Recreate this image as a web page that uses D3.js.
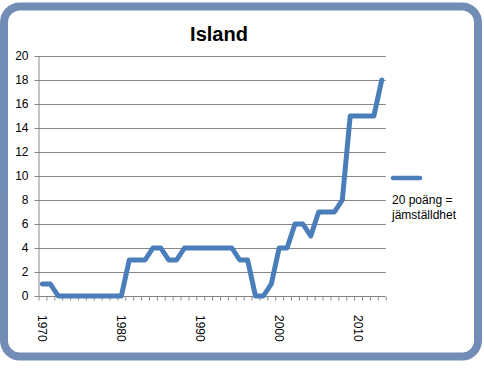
<!DOCTYPE html>
<html><head><meta charset="utf-8">
<script src="https://cdn.jsdelivr.net/npm/d3@7"></script>
<style>html,body{margin:0;padding:0;background:#fff;}svg{display:block;}</style>
</head><body>
<script>
const years = d3.range(1970, 2014);
const values = [1,1,0,0,0,0,0,0,0,0,0,3,3,3,4,4,3,3,4,4,4,4,4,4,4,3,3,0,0,1,4,4,6,6,5,7,7,7,8,15,15,15,15,18];
const yTicks = [0,2,4,6,8,10,12,14,16,18,20];
const xLabels = [1970,1980,1990,2000,2010];
const title = "Island";
const legendLines = ["20 poäng =", "jämställdhet"];

const W = 484, H = 368;
const svg = d3.select("body").append("svg").attr("width", W).attr("height", H);

// border
svg.append("rect").attr("x", 4).attr("y", 6.5).attr("width", 474).attr("height", 350)
  .attr("rx", 16).attr("ry", 16).attr("fill", "#fff")
  .attr("stroke", "#728db5").attr("stroke-width", 8);

const x0 = 38.5, x1 = 385.7, yBot = 296, yTop = 56;
const xb = d3.scaleBand().domain(years).range([x0, x1]).padding(0);
const xi = d3.scaleLinear().domain([0, years.length]).range([x0, x1]);
const y = d3.scaleLinear().domain([0, 20]).range([yBot, yTop]);

// gridlines
svg.append("g").selectAll("line").data(yTicks.filter(d => d > 0)).join("line")
  .attr("x1", x0).attr("x2", x1).attr("y1", d => Math.round(y(d)) + 0.5).attr("y2", d => Math.round(y(d)) + 0.5)
  .attr("stroke", "#868686").attr("stroke-width", 1);

// y axis
const yAxis = svg.append("g").attr("transform", `translate(${x0},0)`)
  .call(d3.axisLeft(y).tickValues(yTicks).tickSize(4).tickPadding(6));
yAxis.selectAll("path,line").attr("stroke", "#868686");
yAxis.selectAll("text").attr("font-family", "Liberation Sans, Arial, sans-serif").attr("font-size", 12).attr("fill", "#000");
yAxis.select(".domain").attr("d", `M0.5,${yBot}V${yTop}`);

// x axis ticks
const xAxis = svg.append("g").attr("transform", `translate(0,${yBot + 0.5})`)
  .call(d3.axisBottom(xi).tickValues(d3.range(0, years.length + 1)).tickSize(4).tickFormat(""));
xAxis.selectAll("path,line").attr("stroke", "#868686");
xAxis.select(".domain").attr("d", `M${x0},0H${x1}`);

// x labels
svg.append("g").selectAll("text").data(xLabels).join("text")
  .attr("transform", d => `translate(${xb(d) + xb.bandwidth() / 2},315) rotate(90)`)
  .attr("dy", "0.35em").attr("text-anchor", "start")
  .attr("font-family", "Liberation Sans, Arial, sans-serif").attr("font-size", 12).attr("fill", "#000")
  .text(d => d);

// line
const line = d3.line().x((d, i) => xb(years[i]) + xb.bandwidth() / 2).y(d => y(d));
svg.append("path").datum(values).attr("d", line)
  .attr("fill", "none").attr("stroke", "#4a7ebb").attr("stroke-width", 5)
  .attr("stroke-linejoin", "round").attr("stroke-linecap", "round");

// title
svg.append("text").attr("x", 219).attr("y", 41).attr("text-anchor", "middle")
  .attr("font-family", "Liberation Sans, Arial, sans-serif").attr("font-weight", "bold").attr("font-size", 20)
  .attr("fill", "#000").text(title);

// legend
svg.append("line").attr("x1", 393).attr("x2", 420).attr("y1", 178).attr("y2", 178)
  .attr("stroke", "#4a7ebb").attr("stroke-width", 4.5).attr("stroke-linecap", "round");
svg.append("g").selectAll("text").data(legendLines).join("text")
  .attr("x", 392).attr("y", (d, i) => 203.5 + i * 15.5)
  .attr("font-family", "Liberation Sans, Arial, sans-serif").attr("font-size", 12).attr("fill", "#000")
  .text(d => d);
</script>
</body></html>
